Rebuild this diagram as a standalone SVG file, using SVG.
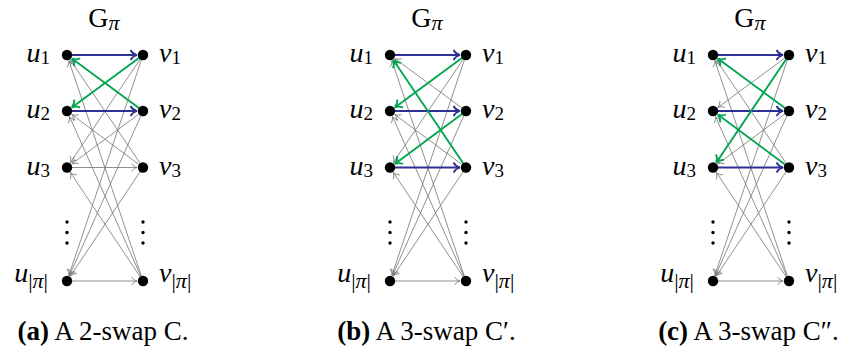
<svg xmlns="http://www.w3.org/2000/svg" width="848" height="354" viewBox="0 0 848 354">
<defs>
<style>
.g{stroke:#7c7c7c;stroke-width:0.85;fill:none;marker-end:url(#ag)}
.b{stroke:#2e3192;stroke-width:1.8;fill:none;marker-end:url(#ab)}
.gr{stroke:#00a651;stroke-width:1.9;fill:none;marker-end:url(#agr)}
.dot{fill:#000}
.lbl{font-family:"Liberation Serif",serif;font-size:28px;fill:#000}
.it{font-style:italic}
.sub{font-size:19px}
.subp{font-size:22px}
.cap{font-family:"Liberation Serif",serif;font-size:27px;fill:#000}
</style>
<marker id="ag" markerUnits="userSpaceOnUse" viewBox="-8 -6 10 12" markerWidth="10" markerHeight="12" refX="0" refY="0" orient="auto" overflow="visible">
<path d="M-5.5,-4 C-4,-1.6 -1.5,-0.4 0,0 C-1.5,0.4 -4,1.6 -5.5,4" fill="none" stroke="#7c7c7c" stroke-width="0.85"/>
</marker>
<marker id="ab" markerUnits="userSpaceOnUse" viewBox="-9 -7 11 14" markerWidth="11" markerHeight="14" refX="0" refY="0" orient="auto" overflow="visible">
<path d="M-6.5,-5 C-5,-2 -2,-0.5 0,0 C-2,0.5 -5,2 -6.5,5" fill="none" stroke="#2e3192" stroke-width="1.7"/>
</marker>
<marker id="agr" markerUnits="userSpaceOnUse" viewBox="-9 -7 11 14" markerWidth="11" markerHeight="14" refX="0" refY="0" orient="auto" overflow="visible">
<path d="M-6.5,-5 C-5,-2 -2,-0.5 0,0 C-2,0.5 -5,2 -6.5,5" fill="none" stroke="#00a651" stroke-width="1.8"/>
</marker>
</defs>

<!-- Panel a -->
<g id="panel-a">
<text class="lbl" x="104" y="27" text-anchor="middle">G<tspan class="subp it" dy="3">π</tspan></text>
<g id="connectors-a" transform="translate(67,0)">
<path class="g" d="M76,55 L3.36,162.53"/>
<path class="g" d="M76,55 L1.91,275.31"/>
<path class="g" d="M76,111 L4.82,163.92"/>
<path class="g" d="M76,111 L2.45,275.52"/>
<path class="g" d="M76,167.5 L3.36,59.97"/>
<path class="g" d="M76,167.5 L4.82,114.58"/>
<path class="g" d="M76,167.5 L3.34,276.01"/>
<path class="g" d="M76,281 L1.91,60.69"/>
<path class="g" d="M76,281 L2.45,116.48"/>
<path class="g" d="M76,281 L3.34,172.49"/>
<path class="g" d="M0,167.5 L70,167.5"/>
<path class="g" d="M0,281 L70,281"/>
<path class="b" d="M0,55 L70,55"/>
<path class="b" d="M0,111 L70,111"/>
<path class="gr" d="M76,55 L4.83,107.44"/>
<path class="gr" d="M76,111 L4.83,58.56"/>
</g>
<g id="a-u1"><circle class="dot" cx="67" cy="55" r="5.2"/><text class="lbl" x="50" y="62" text-anchor="end"><tspan class="it">u</tspan><tspan class="sub" dy="2">1</tspan></text></g>
<g id="a-u2"><circle class="dot" cx="67" cy="111" r="5.2"/><text class="lbl" x="50" y="118" text-anchor="end"><tspan class="it">u</tspan><tspan class="sub" dy="2">2</tspan></text></g>
<g id="a-u3"><circle class="dot" cx="67" cy="167.5" r="5.2"/><text class="lbl" x="50" y="174.5" text-anchor="end"><tspan class="it">u</tspan><tspan class="sub" dy="2">3</tspan></text></g>
<g id="a-un"><circle class="dot" cx="67" cy="281" r="5.2"/><text class="lbl" x="48" y="282" text-anchor="end"><tspan class="it">u</tspan><tspan class="subp" dy="6">|<tspan class="it">π</tspan>|</tspan></text></g>
<g id="a-v1"><circle class="dot" cx="143" cy="55" r="5.2"/><text class="lbl" x="159" y="62"><tspan class="it">v</tspan><tspan class="sub" dy="2">1</tspan></text></g>
<g id="a-v2"><circle class="dot" cx="143" cy="111" r="5.2"/><text class="lbl" x="159" y="118"><tspan class="it">v</tspan><tspan class="sub" dy="2">2</tspan></text></g>
<g id="a-v3"><circle class="dot" cx="143" cy="167.5" r="5.2"/><text class="lbl" x="159" y="174.5"><tspan class="it">v</tspan><tspan class="sub" dy="2">3</tspan></text></g>
<g id="a-vn"><circle class="dot" cx="143" cy="281" r="5.2"/><text class="lbl" x="159" y="282"><tspan class="it">v</tspan><tspan class="subp" dy="6">|<tspan class="it">π</tspan>|</tspan></text></g>
<g id="a-dots" class="dot"><circle cx="67" cy="222" r="1.7"/><circle cx="67" cy="232.5" r="1.7"/><circle cx="67" cy="243" r="1.7"/><circle cx="143" cy="222" r="1.7"/><circle cx="143" cy="232.5" r="1.7"/><circle cx="143" cy="243" r="1.7"/></g>
<text class="cap" x="103" y="340" text-anchor="middle"><tspan font-weight="bold">(a)</tspan> A 2-swap C.</text>
</g>

<!-- Panel b -->
<g id="panel-b">
<text class="lbl" x="427" y="27" text-anchor="middle">G<tspan class="subp it" dy="3">π</tspan></text>
<g id="connectors-b" transform="translate(390,0)">
<path class="g" d="M76,55 L3.36,162.53"/>
<path class="g" d="M76,55 L1.91,275.31"/>
<path class="g" d="M76,111 L4.83,58.56"/>
<path class="g" d="M76,111 L2.45,275.52"/>
<path class="g" d="M76,167.5 L4.82,114.58"/>
<path class="g" d="M76,167.5 L3.34,276.01"/>
<path class="g" d="M76,281 L1.91,60.69"/>
<path class="g" d="M76,281 L2.45,116.48"/>
<path class="g" d="M76,281 L3.34,172.49"/>
<path class="g" d="M0,281 L70,281"/>
<path class="b" d="M0,55 L70,55"/>
<path class="b" d="M0,111 L70,111"/>
<path class="b" d="M0,167.5 L70,167.5"/>
<path class="gr" d="M76,55 L4.83,107.44"/>
<path class="gr" d="M76,111 L4.82,163.92"/>
<path class="gr" d="M76,167.5 L3.36,59.97"/>
</g>
<g id="b-u1"><circle class="dot" cx="390" cy="55" r="5.2"/><text class="lbl" x="373" y="62" text-anchor="end"><tspan class="it">u</tspan><tspan class="sub" dy="2">1</tspan></text></g>
<g id="b-u2"><circle class="dot" cx="390" cy="111" r="5.2"/><text class="lbl" x="373" y="118" text-anchor="end"><tspan class="it">u</tspan><tspan class="sub" dy="2">2</tspan></text></g>
<g id="b-u3"><circle class="dot" cx="390" cy="167.5" r="5.2"/><text class="lbl" x="373" y="174.5" text-anchor="end"><tspan class="it">u</tspan><tspan class="sub" dy="2">3</tspan></text></g>
<g id="b-un"><circle class="dot" cx="390" cy="281" r="5.2"/><text class="lbl" x="371" y="282" text-anchor="end"><tspan class="it">u</tspan><tspan class="subp" dy="6">|<tspan class="it">π</tspan>|</tspan></text></g>
<g id="b-v1"><circle class="dot" cx="466" cy="55" r="5.2"/><text class="lbl" x="482" y="62"><tspan class="it">v</tspan><tspan class="sub" dy="2">1</tspan></text></g>
<g id="b-v2"><circle class="dot" cx="466" cy="111" r="5.2"/><text class="lbl" x="482" y="118"><tspan class="it">v</tspan><tspan class="sub" dy="2">2</tspan></text></g>
<g id="b-v3"><circle class="dot" cx="466" cy="167.5" r="5.2"/><text class="lbl" x="482" y="174.5"><tspan class="it">v</tspan><tspan class="sub" dy="2">3</tspan></text></g>
<g id="b-vn"><circle class="dot" cx="466" cy="281" r="5.2"/><text class="lbl" x="482" y="282"><tspan class="it">v</tspan><tspan class="subp" dy="6">|<tspan class="it">π</tspan>|</tspan></text></g>
<g id="b-dots" class="dot"><circle cx="390" cy="222" r="1.7"/><circle cx="390" cy="232.5" r="1.7"/><circle cx="390" cy="243" r="1.7"/><circle cx="466" cy="222" r="1.7"/><circle cx="466" cy="232.5" r="1.7"/><circle cx="466" cy="243" r="1.7"/></g>
<text class="cap" x="426.5" y="340" text-anchor="middle"><tspan font-weight="bold">(b)</tspan> A 3-swap C′.</text>
</g>

<!-- Panel c -->
<g id="panel-c">
<text class="lbl" x="750" y="27" text-anchor="middle">G<tspan class="subp it" dy="3">π</tspan></text>
<g id="connectors-c" transform="translate(713,0)">
<path class="g" d="M76,55 L4.83,107.44"/>
<path class="g" d="M76,55 L1.91,275.31"/>
<path class="g" d="M76,111 L4.82,163.92"/>
<path class="g" d="M76,111 L2.45,275.52"/>
<path class="g" d="M76,167.5 L3.36,59.97"/>
<path class="g" d="M76,167.5 L3.34,276.01"/>
<path class="g" d="M76,281 L1.91,60.69"/>
<path class="g" d="M76,281 L2.45,116.48"/>
<path class="g" d="M76,281 L3.34,172.49"/>
<path class="g" d="M0,281 L70,281"/>
<path class="b" d="M0,55 L70,55"/>
<path class="b" d="M0,111 L70,111"/>
<path class="b" d="M0,167.5 L70,167.5"/>
<path class="gr" d="M76,55 L3.36,162.53"/>
<path class="gr" d="M76,111 L4.83,58.56"/>
<path class="gr" d="M76,167.5 L4.82,114.58"/>
</g>
<g id="c-u1"><circle class="dot" cx="713" cy="55" r="5.2"/><text class="lbl" x="696" y="62" text-anchor="end"><tspan class="it">u</tspan><tspan class="sub" dy="2">1</tspan></text></g>
<g id="c-u2"><circle class="dot" cx="713" cy="111" r="5.2"/><text class="lbl" x="696" y="118" text-anchor="end"><tspan class="it">u</tspan><tspan class="sub" dy="2">2</tspan></text></g>
<g id="c-u3"><circle class="dot" cx="713" cy="167.5" r="5.2"/><text class="lbl" x="696" y="174.5" text-anchor="end"><tspan class="it">u</tspan><tspan class="sub" dy="2">3</tspan></text></g>
<g id="c-un"><circle class="dot" cx="713" cy="281" r="5.2"/><text class="lbl" x="694" y="282" text-anchor="end"><tspan class="it">u</tspan><tspan class="subp" dy="6">|<tspan class="it">π</tspan>|</tspan></text></g>
<g id="c-v1"><circle class="dot" cx="789" cy="55" r="5.2"/><text class="lbl" x="805" y="62"><tspan class="it">v</tspan><tspan class="sub" dy="2">1</tspan></text></g>
<g id="c-v2"><circle class="dot" cx="789" cy="111" r="5.2"/><text class="lbl" x="805" y="118"><tspan class="it">v</tspan><tspan class="sub" dy="2">2</tspan></text></g>
<g id="c-v3"><circle class="dot" cx="789" cy="167.5" r="5.2"/><text class="lbl" x="805" y="174.5"><tspan class="it">v</tspan><tspan class="sub" dy="2">3</tspan></text></g>
<g id="c-vn"><circle class="dot" cx="789" cy="281" r="5.2"/><text class="lbl" x="805" y="282"><tspan class="it">v</tspan><tspan class="subp" dy="6">|<tspan class="it">π</tspan>|</tspan></text></g>
<g id="c-dots" class="dot"><circle cx="713" cy="222" r="1.7"/><circle cx="713" cy="232.5" r="1.7"/><circle cx="713" cy="243" r="1.7"/><circle cx="789" cy="222" r="1.7"/><circle cx="789" cy="232.5" r="1.7"/><circle cx="789" cy="243" r="1.7"/></g>
<text class="cap" x="748.5" y="340" text-anchor="middle"><tspan font-weight="bold">(c)</tspan> A 3-swap C″.</text>
</g>
</svg>
